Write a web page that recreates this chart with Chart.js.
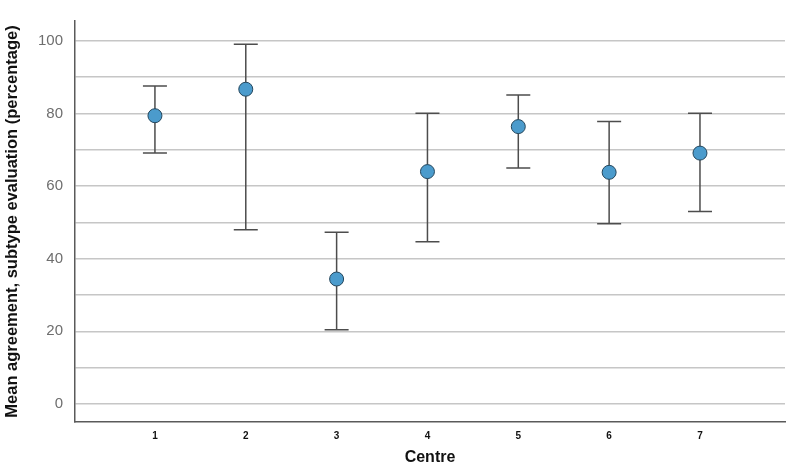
<!DOCTYPE html>
<html>
<head>
<meta charset="utf-8">
<script src="https://cdn.jsdelivr.net/npm/chart.js@4"></script>
<style>
  html, body { margin: 0; padding: 0; background: #fff; overflow: hidden; }
  #wrap { width: 788px; height: 467px; }
</style>
</head>
<body>
<div id="wrap"><canvas id="chart"></canvas></div>
<script>
// centres and mean agreement with the 95% CI whiskers
const centres = [1, 2, 3, 4, 5, 6, 7];
const means = [79.4, 86.7, 34.4, 64.0, 76.4, 63.8, 69.1];
const upper = [87.6, 99.1, 47.3, 80.1, 85.1, 77.8, 80.1];
const lower = [69.1, 48.0, 20.4, 44.7, 65.0, 49.6, 53.0];
const yTicks = [0, 10, 20, 30, 40, 50, 60, 70, 80, 90, 100];

// draw the error bars with the chart's own scales
const errorBars = {
  id: 'errorBars',
  beforeDatasetsDraw(chart) {
    const ctx = chart.ctx;
    const xs = chart.scales.x;
    const ys = chart.scales.y;
    ctx.save();
    ctx.strokeStyle = '#4d4d4d';
    ctx.lineWidth = 1.5;
    for (let i = 0; i < centres.length; i++) {
      const x = xs.getPixelForValue(centres[i]);
      const yTop = ys.getPixelForValue(upper[i]);
      const yBot = ys.getPixelForValue(lower[i]);
      ctx.beginPath();
      ctx.moveTo(x, yTop);
      ctx.lineTo(x, yBot);
      ctx.moveTo(x - 12, yTop);
      ctx.lineTo(x + 12, yTop);
      ctx.moveTo(x - 12, yBot);
      ctx.lineTo(x + 12, yBot);
      ctx.stroke();
    }
    ctx.restore();
  }
};

const config = {
  type: 'scatter',
  data: {
    datasets: [
      {
        label: 'Mean',
        data: centres.map((c, i) => ({ x: c, y: means[i] })),
        pointRadius: 7,
        pointHoverRadius: 7,
        backgroundColor: '#4b9bcc',
        borderColor: '#24465c',
        borderWidth: 1,
      },
    ],
  },
  options: {
    responsive: true,
    maintainAspectRatio: false,
    animation: false,
    layout: { autoPadding: false, padding: { left: 0, right: 3, top: 20, bottom: 0 } },
    plugins: {
      legend: { display: false },
      tooltip: { enabled: false },
    },
    scales: {
      x: {
        type: 'linear',
        min: 0.12,
        max: 7.936,
        afterBuildTicks: (axis) => { axis.ticks = centres.map(v => ({ value: v })); },
        afterFit: (axis) => { axis.height = 45; },
        grid: { display: false, drawTicks: false },
        border: { display: true, color: '#5a5a5a', width: 1.5 },
        ticks: {
          padding: 8,
          color: '#111',
          font: { family: 'Liberation Sans, Arial, sans-serif', size: 10, weight: 'bold' },
          callback: (v) => v,
        },
        title: {
          display: true,
          text: 'Centre',
          color: '#111',
          padding: { top: 0, bottom: 0 },
          font: { family: 'Liberation Sans, Arial, sans-serif', size: 16, weight: 'bold' },
        },
      },
      y: {
        min: -5,
        max: 105.5,
        afterBuildTicks: (axis) => { axis.ticks = yTicks.map(v => ({ value: v })); },
        afterFit: (axis) => { axis.width = 75; },
        grid: { color: '#c6c6c6', lineWidth: 1.5, drawTicks: false },
        border: { display: true, color: '#5a5a5a', width: 1.5 },
        ticks: {
          padding: 12,
          color: '#6e6e6e',
          font: { family: 'Liberation Sans, Arial, sans-serif', size: 15 },
          callback: (v) => (v % 20 === 0 ? v : ''),
        },
        title: {
          display: true,
          text: 'Mean agreement, subtype evaluation (percentage)',
          color: '#111',
          padding: { top: 3, bottom: 0 },
          font: { family: 'Liberation Sans, Arial, sans-serif', size: 16.5, weight: 'bold' },
        },
      },
    },
  },
  plugins: [errorBars],
};

new Chart(document.getElementById('chart').getContext('2d'), config);
</script>
</body>
</html>
